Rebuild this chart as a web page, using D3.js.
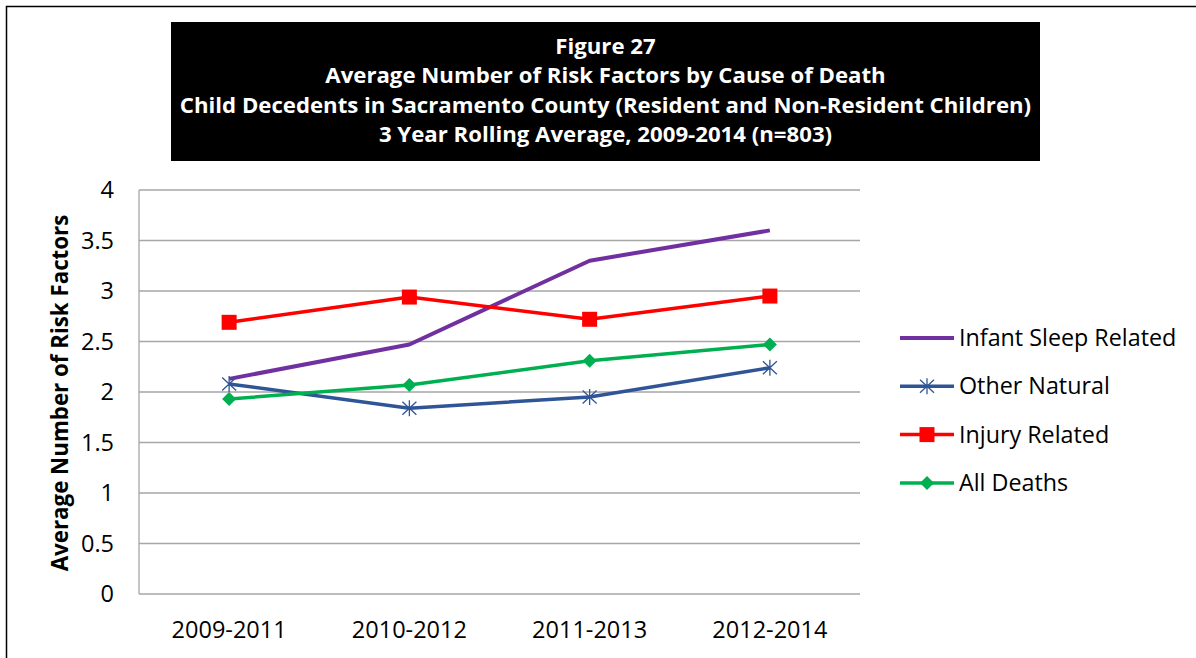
<!DOCTYPE html>
<html>
<head>
<meta charset="utf-8">
<script src="https://cdn.jsdelivr.net/npm/d3@7"></script>
<style>
  body { margin: 0; background: #fff; }
  svg { display: block; }
  text { font-family: "Open Sans", Lato, sans-serif; }
</style>
</head>
<body>
<svg id="chart" width="1196" height="658"></svg>
<script>
// data
const periods = ["2009-2011", "2010-2012", "2011-2013", "2012-2014"];
const infantSleep = [2.13, 2.47, 3.30, 3.60];
const otherNatural = [2.08, 1.84, 1.95, 2.24];
const injuryRelated = [2.69, 2.94, 2.72, 2.95];
const allDeaths = [1.93, 2.07, 2.31, 2.47];
const yTicks = [0, 0.5, 1, 1.5, 2, 2.5, 3, 3.5, 4];
const titleLines = [
  "Figure 27",
  "Average Number of Risk Factors by Cause of Death",
  "Child Decedents in Sacramento County (Resident and Non-Resident Children)",
  "3 Year Rolling Average, 2009-2014 (n=803)"
];

const series = [
  {name: "Infant Sleep Related", values: infantSleep, color: "#7030a0", marker: "none", width: 4},
  {name: "Other Natural", values: otherNatural, color: "#2f5597", marker: "star", width: 3.5},
  {name: "Injury Related", values: injuryRelated, color: "#ff0000", marker: "square", width: 3.5},
  {name: "All Deaths", values: allDeaths, color: "#00b050", marker: "diamond", width: 3.5}
];

const svg = d3.select("#chart");

// outer frame
svg.append("rect")
  .attr("x", 6.5).attr("y", 6.5)
  .attr("width", 1250).attr("height", 700)
  .attr("fill", "none").attr("stroke", "#000").attr("stroke-width", 1.5);

// title box
svg.append("rect")
  .attr("x", 171).attr("y", 22)
  .attr("width", 869).attr("height", 139)
  .attr("fill", "#000");

svg.selectAll(".title")
  .data(titleLines)
  .enter().append("text")
  .attr("class", "title")
  .attr("x", 605.5)
  .attr("y", (d, i) => 46 + i * 29.5)
  .attr("dy", "0.35em")
  .attr("text-anchor", "middle")
  .attr("fill", "#fff")
  .attr("font-weight", "bold")
  .attr("font-size", 22.2)
  .text(d => d);

const margin = {left: 139, right: 860, top: 190, bottom: 594};

const x = d3.scaleBand()
  .domain(periods)
  .range([margin.left, margin.right]);

const y = d3.scaleLinear()
  .domain([0, 4])
  .range([margin.bottom, margin.top]);

// gridlines
svg.append("g")
  .selectAll("line")
  .data(yTicks)
  .enter().append("line")
  .attr("x1", margin.left).attr("x2", margin.right)
  .attr("y1", d => y(d)).attr("y2", d => y(d))
  .attr("stroke", "#a6a6a6").attr("stroke-width", 1.3);

// y axis line
svg.append("line")
  .attr("x1", margin.left).attr("x2", margin.left)
  .attr("y1", margin.top).attr("y2", margin.bottom)
  .attr("stroke", "#a6a6a6").attr("stroke-width", 1.3);

// y tick labels
svg.append("g")
  .selectAll("text")
  .data(yTicks)
  .enter().append("text")
  .attr("x", 114)
  .attr("y", d => y(d))
  .attr("dy", "0.35em")
  .attr("text-anchor", "end")
  .attr("font-size", 23.5)
  .attr("fill", "#000")
  .text(d => d);

// x tick labels
svg.append("g")
  .selectAll("text")
  .data(periods)
  .enter().append("text")
  .attr("x", d => x(d) + x.bandwidth() / 2)
  .attr("y", 637.5)
  .attr("text-anchor", "middle")
  .attr("font-size", 23.5)
  .attr("fill", "#000")
  .text(d => d);

// y axis title
svg.append("text")
  .attr("transform", "translate(60,393) rotate(-90)")
  .attr("text-anchor", "middle")
  .attr("dy", "0.35em")
  .attr("font-size", 22.3)
  .attr("font-weight", "bold")
  .text("Average Number of Risk Factors");

const line = d3.line()
  .x((d, i) => x(periods[i]) + x.bandwidth() / 2)
  .y(d => y(d));

function drawMarker(g, type, color) {
  if (type === "square") {
    g.append("rect").attr("x", -7.5).attr("y", -7.5).attr("width", 15).attr("height", 15)
      .attr("fill", color);
  } else if (type === "diamond") {
    g.append("path").attr("d", "M0,-7L7,0L0,7L-7,0Z").attr("fill", color);
  } else if (type === "star") {
    g.append("path")
      .attr("d", "M-7,-6.5L7,6.5M-7,6.5L7,-6.5M0,-8L0,8")
      .attr("stroke", color).attr("stroke-width", 1.3).attr("fill", "none");
  }
}

series.forEach(s => {
  svg.append("path")
    .datum(s.values)
    .attr("d", line)
    .attr("fill", "none")
    .attr("stroke", s.color)
    .attr("stroke-width", s.width)
    .attr("stroke-linejoin", "round");
  if (s.marker !== "none") {
    s.values.forEach((v, i) => {
      const g = svg.append("g")
        .attr("transform", `translate(${x(periods[i]) + x.bandwidth() / 2},${y(v)})`);
      drawMarker(g, s.marker, s.color);
    });
  }
});

// legend
const legend = svg.append("g");
series.forEach((s, i) => {
  const ly = 338 + i * 48.3;
  legend.append("line")
    .attr("x1", 900).attr("x2", 954)
    .attr("y1", ly).attr("y2", ly)
    .attr("stroke", s.color).attr("stroke-width", s.width);
  const g = legend.append("g").attr("transform", `translate(927,${ly})`);
  drawMarker(g, s.marker, s.color);
  legend.append("text")
    .attr("x", 959).attr("y", ly)
    .attr("dy", "0.35em")
    .attr("font-size", 23.3)
    .attr("fill", "#000")
    .text(s.name);
});
</script>
</body>
</html>
